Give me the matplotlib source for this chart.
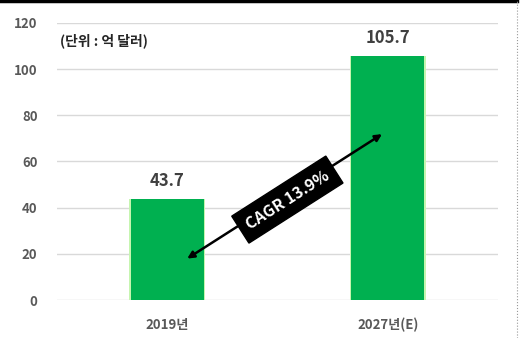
import matplotlib.pyplot as plt
from matplotlib.lines import Line2D
import numpy as np

plt.rcParams['font.family'] = ['Noto Sans CJK KR', 'DejaVu Sans']

categories = ['2019년', '2027년(E)']
values = [43.7, 105.7]
value_labels = ['43.7', '105.7']
yticks = [0, 20, 40, 60, 80, 100, 120]
unit_text = '(단위 : 억 달러)'
cagr_text = 'CAGR 13.9%'

fig = plt.figure(figsize=(5.23, 3.38), dpi=100)
ax = fig.add_axes([0.109, 0.1124, 0.843, 0.8196])

x = np.arange(len(categories))
# soft glow edge round the bars
ax.bar(x, values, width=0.345, color='#c6f5b0', zorder=2)
ax.bar(x, values, width=0.33, color='#00b050', zorder=3)

for xi, v, lab in zip(x, values, value_labels):
    ax.text(xi, v + 4, lab, ha='center', va='bottom', fontsize=12,
            fontweight='bold', color='#404040')

ax.set_xlim(-0.5, 1.5)
ax.set_ylim(0, 120)
ax.set_yticks(yticks)
ax.set_yticklabels([str(t) for t in yticks], fontsize=9.5, fontweight='bold', color='#595959')
ax.set_xticks(x)
ax.set_xticklabels(categories, fontsize=9.5, fontweight='bold', color='#595959')
ax.tick_params(length=0, pad=13)
ax.tick_params(axis='y', pad=14)
for s in ax.spines.values():
    s.set_visible(False)
ax.grid(axis='y', color='#d9d9d9', lw=1)
ax.set_axisbelow(True)

ax.text(-0.485, 112.5, unit_text, fontsize=10, fontweight='bold', color='#262626',
        va='center', ha='left')

# CAGR arrow with rotated black label
x0, y0, x1, y1 = 0.08, 17.3, 0.985, 72.5
ax.annotate('', xy=(x0, y0), xytext=(x1, y1),
            arrowprops=dict(arrowstyle='<|-|>', color='black', lw=1.8,
                            mutation_scale=10), zorder=5)
p0 = ax.transData.transform((x0, y0))
p1 = ax.transData.transform((x1, y1))
ang = np.degrees(np.arctan2(p1[1] - p0[1], p1[0] - p0[0]))
ax.text(0.545, 43.5, cagr_text, rotation=ang, rotation_mode='anchor',
        ha='center', va='center', fontsize=11.5, fontweight='bold', color='white',
        zorder=6, bbox=dict(boxstyle='square,pad=0.5', fc='black', ec='black'))

# frame of the clipped picture
fig.add_artist(Line2D([0, 0.988], [0.996, 0.996], color='black', lw=2.5, transform=fig.transFigure))
fig.add_artist(Line2D([0.988, 0.988], [0, 0.996], color='#999999', lw=0.8, ls=':', transform=fig.transFigure))

fig.savefig('out.png', dpi=100)
